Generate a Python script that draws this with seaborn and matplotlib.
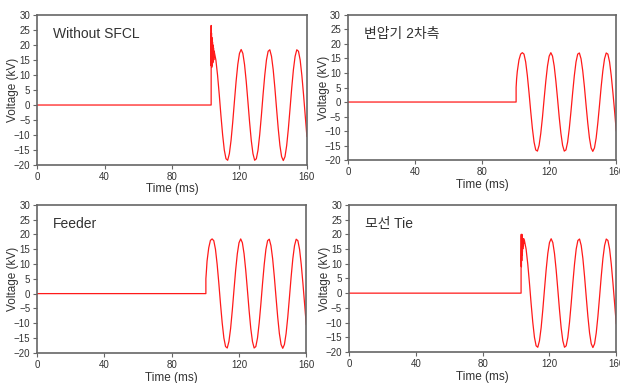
import pandas as pd
import seaborn as sns
import matplotlib.pyplot as plt

sns.set_style('ticks')
plt.rcParams['font.family'] = ['Liberation Sans', 'Noto Sans CJK KR']

# panel titles
titles = ['Without SFCL', '변압기 2차측', 'Feeder', '모선 Tie']

# steady-state sampling times (ms) after the transient
steady_t = list(range(105, 161))

# steady-state voltage (kV), ~18.5 kV peak
steady_185 = [17.9, 15.0, 9.9, 3.5, -3.5, -9.9, -15.0, -17.9, -18.4, -16.2,
              -11.8, -5.7, 1.2, 7.9, 13.5, 17.2, 18.5, 17.2, 13.5, 7.9,
              1.2, -5.7, -11.8, -16.2, -18.4, -17.9, -15.0, -9.9, -3.5, 3.5,
              9.9, 15.0, 17.9, 18.4, 16.2, 11.8, 5.7, -1.2, -7.9, -13.5,
              -17.2, -18.5, -17.2, -13.5, -7.9, -1.2, 5.7, 11.8, 16.2, 18.4,
              17.9, 15.0, 9.9, 3.5, -3.5, -10.5]

# steady-state voltage (kV), ~17 kV peak (transformer secondary)
steady_170 = [16.5, 13.8, 9.1, 3.2, -3.2, -9.1, -13.8, -16.5, -16.9, -14.9,
              -10.8, -5.3, 1.1, 7.2, 12.4, 15.8, 17.0, 15.8, 12.4, 7.2,
              1.1, -5.3, -10.8, -14.9, -16.9, -16.5, -13.8, -9.1, -3.2, 3.2,
              9.1, 13.8, 16.5, 16.9, 14.9, 10.8, 5.3, -1.1, -7.2, -12.4,
              -15.8, -17.0, -15.8, -12.4, -7.2, -1.1, 5.3, 10.8, 14.9, 16.9,
              16.5, 13.8, 9.1, 3.2, -3.2, -10.0]

# fault transients (time ms, voltage kV), before the steady part
p1_t = [0, 103.2, 103.2, 103.3, 103.4, 103.5, 103.6, 103.7, 103.8, 103.9,
        104.0, 104.15, 104.3, 104.45, 104.6, 104.75, 104.9]
p1_v = [0, 0, 26.5, 13.0, 24.0, 12.5, 22.5, 13.0, 21.5, 13.5,
        21.0, 14.0, 20.0, 14.5, 19.0, 15.0, 18.0]

p2_t = [0, 100.3, 100.3, 100.6, 101, 102, 103, 104]
p2_v = [0, 0, 5.0, 8.0, 10.5, 14.5, 16.5, 17.0]

p3_t = [0, 100.3, 100.3, 100.6, 101, 102, 103, 104]
p3_v = [0, 0, 5.0, 7.5, 11.0, 15.5, 18.0, 18.5]

p4_t = [0, 103.0, 103.0, 103.1, 103.2, 103.3, 103.4, 103.5, 103.6, 103.7,
        103.8, 103.9, 104.0, 104.2, 104.4, 104.6, 104.8]
p4_v = [0, 0, 12.0, 20.0, 9.0, 19.5, 11.0, 20.0, 13.0, 19.0,
        14.0, 18.5, 15.0, 18.0, 16.0, 18.5, 17.0]

parts = [(p1_t, p1_v, steady_185), (p2_t, p2_v, steady_170),
         (p3_t, p3_v, steady_185), (p4_t, p4_v, steady_185)]

rows = []
for i, (tt, vv, ss) in enumerate(parts):
    for t, v in zip(tt + steady_t, vv + ss):
        rows.append({'panel': i, 'time': t, 'voltage': v})
df = pd.DataFrame(rows)

# axes rectangles in figure fractions
rects = [
    [0.060, 0.569, 0.435, 0.392],
    [0.561, 0.582, 0.433, 0.379],
    [0.060, 0.079, 0.434, 0.386],
    [0.563, 0.081, 0.431, 0.384],
]
# x-label top offset below each axes, in axes fractions
xlab_y = [-0.12, -0.13, -0.128, -0.128]

frame = '#666666'
txt = '#333333'

fig = plt.figure(figsize=(6.2, 3.83), dpi=100)
for i, rect in enumerate(rects):
    ax = fig.add_axes(rect)
    sub = df[df['panel'] == i]
    sns.lineplot(data=sub, x='time', y='voltage', estimator=None, sort=False,
                 color='#ff1a1a', lw=0.9, ax=ax)
    ax.set_xlim(0, 160)
    ax.set_ylim(-20, 30)
    ax.set_xticks([0, 40, 80, 120, 160])
    ax.set_yticks(list(range(-20, 31, 5)))
    ax.tick_params(direction='out', length=3, width=0.8, colors=frame,
                   labelcolor=txt, labelsize=7, pad=2)
    for sp in ax.spines.values():
        sp.set_color(frame)
        sp.set_linewidth(1.2)
    ax.set_xlabel('Time (ms)', fontsize=8.5, color=txt)
    ax.set_ylabel('Voltage (kV)', fontsize=8.5, color=txt)
    ax.xaxis.set_label_coords(0.5, xlab_y[i])
    ax.yaxis.set_label_coords(-0.068, 0.5)
    ax.text(0.06, 0.87, titles[i], transform=ax.transAxes, fontsize=10,
            color=txt, ha='left', va='center')

plt.savefig('out.png', dpi=100)
